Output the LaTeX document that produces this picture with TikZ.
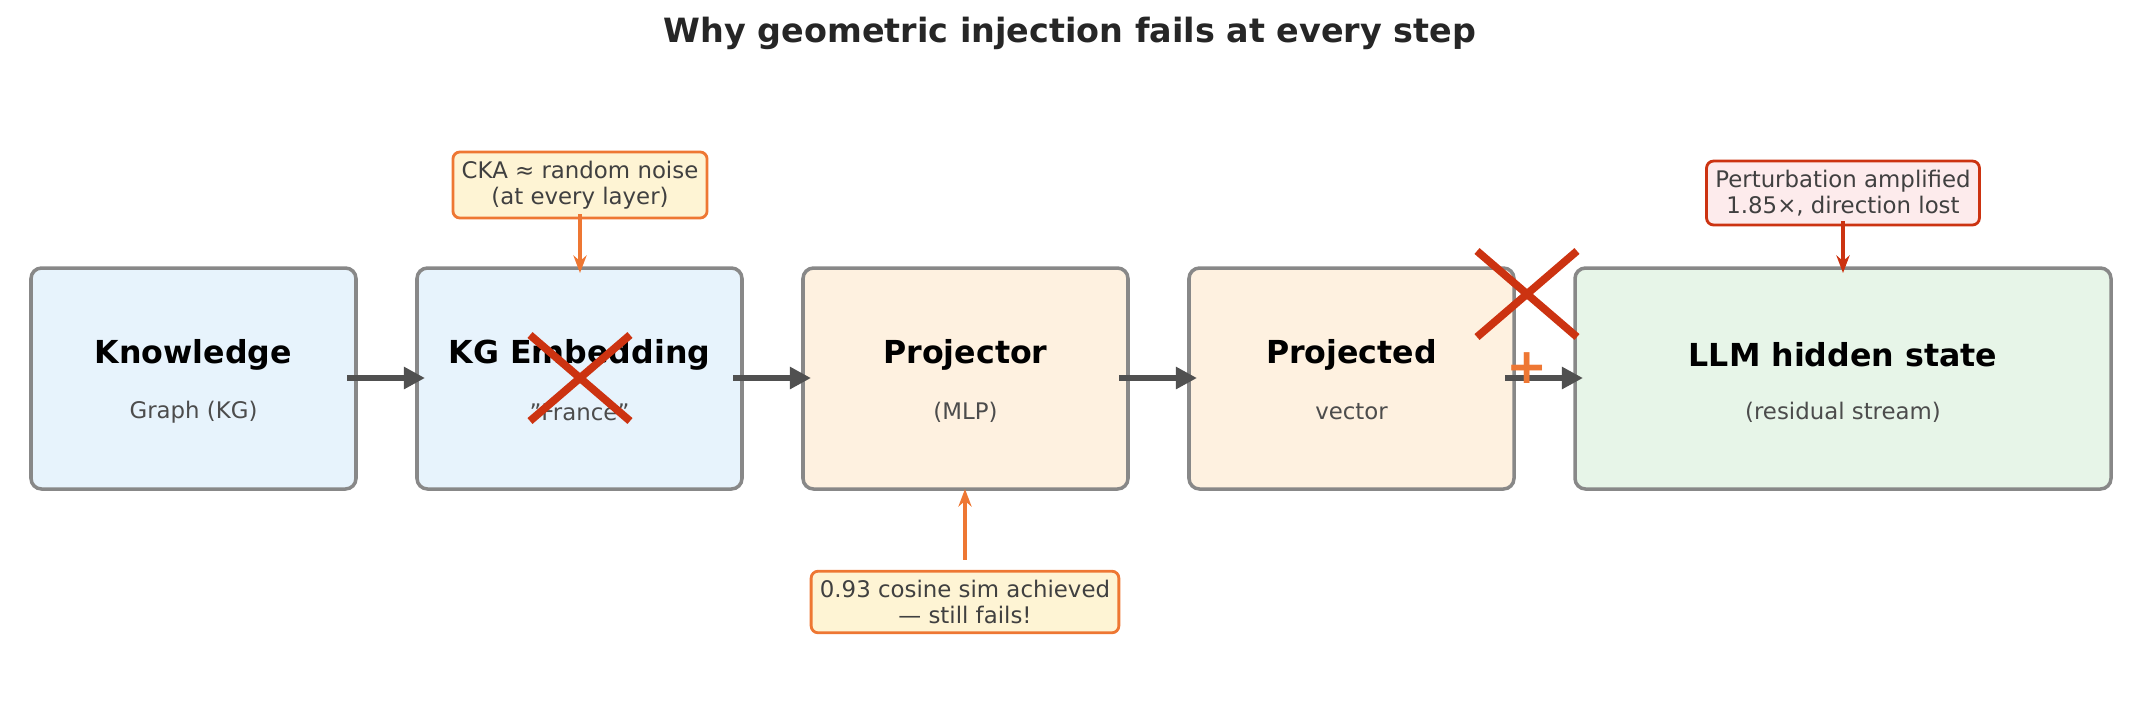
\documentclass[tikz,border=0pt]{standalone}
\usepackage{fontspec}
\setmainfont{DejaVu Sans}
\usetikzlibrary{arrows.meta}
\definecolor{bluefill}{HTML}{E7F3FC}
\definecolor{orangefill}{HTML}{FEF1E0}
\definecolor{greenfill}{HTML}{E7F5E8}
\definecolor{notefill}{HTML}{FEF4D4}
\definecolor{redfill}{HTML}{FDEBEC}
\definecolor{boxline}{HTML}{888888}
\definecolor{noteline}{HTML}{EE7733}
\definecolor{redline}{HTML}{CC3311}
\definecolor{arrgray}{HTML}{505050}
\begin{document}
\begin{tikzpicture}[x=0.01cm,y=-0.01cm]
    \tikzstyle{stage}=[draw=boxline,line width=1pt,rounded corners=3pt,inner sep=0pt]
    \tikzstyle{note}=[draw=noteline,fill=notefill,line width=0.8pt,rounded corners=2pt,align=center,font=\fontsize{6.5}{7.5}\selectfont,text=black!75,inner sep=2.5pt]
    \tikzstyle{flow}=[line width=1.8pt,arrgray,-{Triangle[length=6pt,width=6pt]}]
    \tikzstyle{cross}=[line width=2.2pt,redline]

    \useasboundingbox (0,0) rectangle (2141,702);
    \node[font=\bfseries\fontsize{9.5}{11}\selectfont,text=black!85] (title) at (1070,33) {Why geometric injection fails at every step};

    % stages
    \foreach \n/\xa/\xb/\fc/\top/\sub in {know/31/356/bluefill/Knowledge/Graph (KG),
                                        emb/417/742/bluefill/KG Embedding/"France",
                                        proj/803/1128/orangefill/Projector/(MLP),
                                        vec/1189/1514/orangefill/Projected/vector,
                                        llm/1575/2111/greenfill/LLM hidden state/(residual stream)} {
        \draw[stage,fill=\fc] (\xa,268) rectangle (\xb,489);
        \node[inner sep=0pt] (\n) at ({(\xa+\xb)/2},378) {};
        \node[font=\bfseries\fontsize{9}{10}\selectfont] (\n-top) at ({(\xa+\xb)/2},355) {\top};
        \node[font=\fontsize{6.5}{8}\selectfont,text=black!70] (\n-sub) at ({(\xa+\xb)/2},412) {\sub};
    }

    \coordinate (k1) at (347,378); \coordinate (k2) at (425,378);
    \coordinate (e1) at (733,378); \coordinate (e2) at (811,378);
    \coordinate (p1) at (1119,378); \coordinate (p2) at (1197,378);
    \coordinate (v1) at (1505,378); \coordinate (v2) at (1583,378);
    \draw[flow] (k1) -- (k2);
    \draw[flow] (e1) -- (e2);
    \draw[flow] (p1) -- (p2);
    \draw[flow] (v1) -- (v2);

    % failure marks
    \draw[cross] (530,335) -- (630,421) (530,421) -- (630,335);
    \draw[cross] (1477,251) -- (1577,337) (1477,337) -- (1577,251);
    \node[text=noteline,font=\bfseries\fontsize{14}{14}\selectfont] (plus) at (1527,368) {+};

    % notes
    \node[note] (cka) at (580,185) {CKA ≈ random noise\\(at every layer)};
    \node[note] (cos) at (965,602) {0.93 cosine sim achieved\\— still fails!};
    \node[note,draw=redline,fill=redfill] (pert) at (1843,193) {Perturbation amplified\\1.85×, direction lost};
    \coordinate (cka-end) at (580,273);
    \coordinate (cos-end) at (965,489);
    \coordinate (pert-end) at (1843,273);
    \draw[line width=1.2pt,noteline,-{Stealth[length=5pt]}] (cka.south) ++(0,-5) -- (cka-end);
    \draw[line width=1.2pt,noteline,-{Stealth[length=5pt]}] (cos.north) ++(0,-10) -- (cos-end);
    \draw[line width=1.2pt,redline,-{Stealth[length=5pt]}] (pert.south) ++(0,-5) -- (pert-end);
\end{tikzpicture}
\end{document}
